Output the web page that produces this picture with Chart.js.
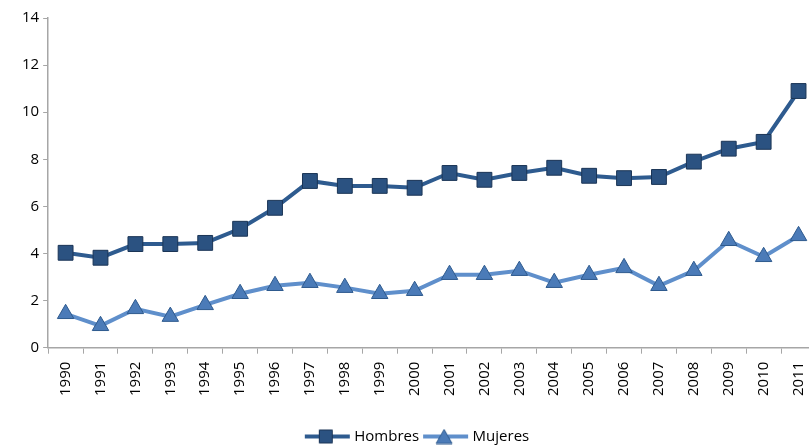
<!DOCTYPE html>
<html>
<head>
<meta charset="utf-8">
<script src="https://cdn.jsdelivr.net/npm/chart.js@4"></script>
<style>
  html, body { margin: 0; padding: 0; background: #fff; overflow: hidden; }
  #wrap { width: 836px; height: 447px; }
</style>
</head>
<body>
<div id="wrap"><canvas id="chart"></canvas></div>
<script>
// jaren op de x-as
const years = ["1990","1991","1992","1993","1994","1995","1996","1997","1998","1999","2000",
  "2001","2002","2003","2004","2005","2006","2007","2008","2009","2010","2011"];

const hombres = [4.03, 3.82, 4.4, 4.4, 4.45, 5.05, 5.94, 7.08, 6.87, 6.87, 6.79,
  7.42, 7.13, 7.42, 7.64, 7.3, 7.2, 7.25, 7.9, 8.45, 8.74, 10.9];
const mujeres = [1.44, 0.93, 1.65, 1.32, 1.82, 2.29, 2.63, 2.76, 2.55, 2.29, 2.42,
  3.1, 3.1, 3.27, 2.76, 3.1, 3.39, 2.63, 3.27, 4.54, 3.86, 4.75];

const yTicks = [0, 2, 4, 6, 8, 10, 12, 14];

// legenda-icoon: lijn met marker (iets breder zodat de lijn tot aan de tekst loopt)
function legendIcon(lineColor, fill, stroke, shape) {
  const c = document.createElement("canvas");
  c.width = 56; c.height = 16;
  const g = c.getContext("2d");
  g.strokeStyle = lineColor;
  g.lineWidth = 4;
  g.beginPath(); g.moveTo(7, 8); g.lineTo(52, 8); g.stroke();
  g.fillStyle = fill;
  g.strokeStyle = stroke;
  g.lineWidth = 1;
  g.beginPath();
  if (shape === "rect") {
    g.rect(21.5, 1.5, 13, 13);
  } else {
    g.moveTo(28, 1); g.lineTo(36, 15); g.lineTo(20, 15); g.closePath();
  }
  g.fill(); g.stroke();
  return c;
}

const iconH = legendIcon("#2E5B8F", "#2B5281", "#1B3556", "rect");
const iconM = legendIcon("#5F8FCB", "#4B7BB8", "#2E5A8E", "triangle");

const axisColor = "#a6a6a6";
const font = { family: "'Open Sans', 'Liberation Sans', sans-serif", size: 15 };

new Chart(document.getElementById("chart"), {
  type: "line",
  data: {
    labels: years,
    datasets: [
      {
        label: "Hombres",
        data: hombres,
        borderColor: "#2E5B8F",
        borderWidth: 4,
        pointStyle: "rect",
        pointRadius: 10.5,
        pointBackgroundColor: "#2B5281",
        pointBorderColor: "#1B3556",
        pointBorderWidth: 1,
        tension: 0,
      },
      {
        label: "Mujeres",
        data: mujeres,
        borderColor: "#5F8FCB",
        borderWidth: 4,
        pointStyle: "triangle",
        pointRadius: 9.5,
        pointBackgroundColor: "#4B7BB8",
        pointBorderColor: "#2E5A8E",
        pointBorderWidth: 1,
        tension: 0,
      },
    ],
  },
  options: {
    responsive: true,
    maintainAspectRatio: false,
    animation: false,
    layout: { padding: { top: 18, right: 20, left: 18, bottom: -7 } },
    plugins: {
      tooltip: { enabled: false },
      legend: {
        position: "bottom",
        labels: {
          color: "#000",
          font: font,
          usePointStyle: true,
          pointStyleWidth: 42,
          padding: 4,
          generateLabels: (chart) =>
            chart.data.datasets.map((ds, i) => ({
              text: ds.label,
              pointStyle: i === 0 ? iconH : iconM,
              fillStyle: ds.borderColor,
              strokeStyle: ds.borderColor,
              lineWidth: 0,
              datasetIndex: i,
              fontColor: "#000",
            })),
        },
      },
    },
    scales: {
      x: {
        offset: true,
        afterFit: (scale) => {
          scale.height += 21;
        },
        grid: {
          offset: true,
          drawOnChartArea: false,
          drawTicks: true,
          tickLength: 6,
          color: axisColor,
        },
        border: { color: axisColor, width: 1.5 },
        ticks: {
          color: "#000",
          font: font,
          minRotation: 90,
          maxRotation: 90,
          padding: 8,
        },
      },
      y: {
        min: 0,
        max: 14,
        afterBuildTicks: (axis) => {
          axis.ticks = yTicks.map((v) => ({ value: v }));
        },
        grid: {
          drawOnChartArea: false,
          drawTicks: true,
          tickLength: 5,
          color: axisColor,
        },
        border: { color: axisColor, width: 1.5 },
        ticks: { color: "#000", font: font, padding: 4 },
      },
    },
  },
});
</script>
</body>
</html>
